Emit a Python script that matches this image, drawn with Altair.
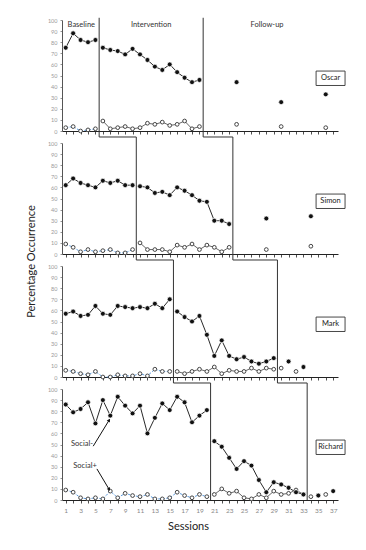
import altair as alt
import pandas as pd

# ---------------- data ----------------
names = ["Oscar", "Simon", "Mark", "Richard"]
phase_names = ["Baseline", "Intervention", "Follow-up"]
x_tick_values = list(range(1, 38))

# phase-change positions (between sessions) per participant
phase1_change = [5.5, 10.5, 15.5, 20.5]
phase2_change = [19.5, 23.5, 29.5, 33.5]

# Social- (filled circles) and Social+ (open circles)
oscar_base_neg = [75, 88, 82, 80, 82]
oscar_base_pos = [3, 4, 0, 1, 2]
oscar_int_neg = [75, 73, 72, 69, 74, 69, 64, 58, 55, 60, 53, 48, 44, 46]
oscar_int_pos = [9, 2, 3, 4, 2, 3, 7, 6, 8, 5, 6, 9, 2, 4]
oscar_fu_neg_sessions = [24, 30, 36]
oscar_fu_neg = [44, 26, 33]
oscar_fu_pos_sessions = [24, 30, 36]
oscar_fu_pos = [6, 4, 3]

simon_base_neg = [62, 68, 64, 62, 60, 66, 64, 66, 62, 62]
simon_base_pos = [9, 6, 2, 4, 2, 3, 4, 1, 1, 4]
simon_int_neg = [61, 60, 55, 56, 53, 60, 57, 53, 48, 47, 30, 30, 27]
simon_int_pos = [10, 4, 4, 4, 2, 8, 6, 9, 4, 8, 6, 2, 6]
simon_fu_neg_sessions = [28, 34]
simon_fu_neg = [32, 34]
simon_fu_pos_sessions = [28, 34]
simon_fu_pos = [4, 7]

mark_base_neg = [57, 59, 55, 56, 64, 57, 56, 64, 63, 62, 63, 62, 66, 62, 70]
mark_base_pos = [6, 5, 3, 2, 5, 0, 0, 2, 1, 1, 3, 1, 7, 5, 5]
mark_int_neg = [59, 54, 50, 55, 38, 19, 33, 19, 16, 18, 14, 12, 14, 17]
mark_int_pos = [5, 3, 5, 7, 5, 9, 3, 6, 5, 5, 8, 5, 8, 7]
mark_fu_neg_sessions = [31, 33]
mark_fu_neg = [14, 9]
mark_fu_pos_sessions = [30, 32]
mark_fu_pos = [8, 5]

richard_base_neg = [86, 79, 82, 88, 69, 90, 76, 93, 85, 78, 85, 60, 74, 87, 81, 93, 88, 70, 76, 81]
richard_base_pos = [9, 7, 2, 1, 2, 1, 8, 2, 6, 4, 3, 5, 1, 1, 2, 7, 4, 2, 5, 3]
richard_int_neg = [53, 48, 38, 28, 35, 31, 18, 7, 16, 14, 11, 7, 5]
richard_int_pos = [5, 10, 6, 8, 2, 1, 5, 2, 8, 5, 6, 9, 5]
richard_fu_neg_sessions = [35, 37]
richard_fu_neg = [4, 8]
richard_fu_pos_sessions = [34, 36]
richard_fu_pos = [3, 5]

series = {
    "Oscar": (oscar_base_neg, oscar_base_pos, oscar_int_neg, oscar_int_pos,
              oscar_fu_neg_sessions, oscar_fu_neg, oscar_fu_pos_sessions, oscar_fu_pos),
    "Simon": (simon_base_neg, simon_base_pos, simon_int_neg, simon_int_pos,
              simon_fu_neg_sessions, simon_fu_neg, simon_fu_pos_sessions, simon_fu_pos),
    "Mark": (mark_base_neg, mark_base_pos, mark_int_neg, mark_int_pos,
             mark_fu_neg_sessions, mark_fu_neg, mark_fu_pos_sessions, mark_fu_pos),
    "Richard": (richard_base_neg, richard_base_pos, richard_int_neg, richard_int_pos,
                richard_fu_neg_sessions, richard_fu_neg, richard_fu_pos_sessions, richard_fu_pos),
}

rows = []
for name in names:
    bn, bp, inn, ip, fns, fn, fps, fp = series[name]
    for i, v in enumerate(bn):
        rows.append(dict(panel=name, session=i + 1, value=v, series="neg", phase="Baseline"))
    for i, v in enumerate(bp):
        rows.append(dict(panel=name, session=i + 1, value=v, series="pos", phase="Baseline"))
    s0 = len(bn) + 1
    for i, v in enumerate(inn):
        rows.append(dict(panel=name, session=s0 + i, value=v, series="neg", phase="Intervention"))
    for i, v in enumerate(ip):
        rows.append(dict(panel=name, session=s0 + i, value=v, series="pos", phase="Intervention"))
    for s, v in zip(fns, fn):
        rows.append(dict(panel=name, session=s, value=v, series="neg", phase="Follow-up"))
    for s, v in zip(fps, fp):
        rows.append(dict(panel=name, session=s, value=v, series="pos", phase="Follow-up"))
df = pd.DataFrame(rows)

FONT = "Lato"
xscale = alt.Scale(domain=[0.5, 37.65], nice=False, zero=False)
yscale = alt.Scale(domain=[0, 100], nice=False, zero=False)


def make_axes(idx):
    last = idx == len(names) - 1
    xaxis = alt.Axis(
        values=x_tick_values,
        labelExpr="datum.value % 2 == 1 ? datum.label : ''" if last else "''",
        labels=last, labelOverlap=False, ticks=True, tickSize=3, tickColor="#222",
        domainColor="#222", domainWidth=1, tickWidth=0.8, grid=False,
        labelFontSize=6.5, labelColor="#888", labelFont=FONT, labelPadding=4,
        labelFlush=False,
        title="Sessions" if last else None,
        titleFont=FONT, titleFontSize=11, titleFontWeight="normal", titleColor="#222",
        titleX=126, titleY=29, titleBaseline="alphabetic", titleAnchor="middle",
    )
    yaxis_kwargs = dict(
        values=list(range(0, 101, 10)), labelOverlap=False, tickSize=2, tickColor="#777",
        domainColor="#555", domainWidth=1, tickWidth=0.8, grid=False, labelFontSize=5.5,
        labelColor="#999", labelFont=FONT, labelPadding=3, labelFlush=False,
    )
    if idx == 1:
        yaxis = alt.Axis(title="Percentage Occurrence", titleFont=FONT, titleFontSize=11,
                         titleFontWeight="normal", titleColor="#222", titleAngle=-90,
                         titleX=-26, titleY=118, titleBaseline="bottom", titleAlign="center",
                         **yaxis_kwargs)
    else:
        yaxis = alt.Axis(title=None, **yaxis_kwargs)
    return xaxis, yaxis


charts = []
for idx, name in enumerate(names):
    xaxis, yaxis = make_axes(idx)
    d = df[df.panel == name]

    def XF(field):
        return alt.X(field, scale=xscale, axis=xaxis)

    def YF(field):
        return alt.Y(field, scale=yscale, axis=yaxis)

    base = alt.Chart(d)

    neg_line = base.transform_filter(
        "datum.series == 'neg' && datum.phase != 'Follow-up'"
    ).mark_line(color="#111", strokeWidth=0.9).encode(
        x=XF("session:Q"), y=YF("value:Q"), detail="phase:N")
    pos_line_base = base.transform_filter(
        "datum.series == 'pos' && datum.phase == 'Baseline'"
    ).mark_line(color="#4a8fd8", strokeWidth=0.9, strokeDash=[2.5, 1.5]).encode(
        x=XF("session:Q"), y=YF("value:Q"))
    pos_line_int = base.transform_filter(
        "datum.series == 'pos' && datum.phase == 'Intervention'"
    ).mark_line(color="#555", strokeWidth=0.9).encode(x=XF("session:Q"), y=YF("value:Q"))
    pos_pts = base.transform_filter("datum.series == 'pos'").mark_point(
        shape="circle", filled=True, fill="white", stroke="#444", strokeWidth=1,
        size=14, opacity=1
    ).encode(x=XF("session:Q"), y=YF("value:Q"))
    neg_pts = base.transform_filter("datum.series == 'neg'").mark_point(
        shape="circle", filled=True, fill="#111", stroke="white", strokeWidth=0.7,
        size=24, opacity=1
    ).encode(x=XF("session:Q"), y=YF("value:Q"))

    # staggered phase-change lines
    last = idx == len(names) - 1
    top = 102 if idx == 0 else 105.4
    bottom = 0 if last else -5.4
    seg_rows = []
    for chg in (phase1_change, phase2_change):
        seg_rows.append(dict(x=chg[idx], x2=chg[idx], y=top, y2=bottom))
        if not last:
            seg_rows.append(dict(x=chg[idx], x2=chg[idx + 1], y=bottom, y2=bottom))
    segs = alt.Chart(pd.DataFrame(seg_rows)).mark_rule(color="#333", strokeWidth=1).encode(
        x=XF("x:Q"), x2="x2:Q", y=YF("y:Q"), y2="y2:Q")

    # name box
    boxdf = pd.DataFrame({"name": [name], "bx": [34.7], "bx2": [38.6], "by": [41],
                          "by2": [54], "tx": [36.65], "ty": [47.5]})
    box = alt.Chart(boxdf).mark_rect(fill="white", stroke="#333", strokeWidth=0.9).encode(
        x=XF("bx:Q"), x2="bx2:Q", y=YF("by:Q"), y2="by2:Q")
    box_text = alt.Chart(boxdf).mark_text(font=FONT, fontSize=7.5, color="#222").encode(
        x=XF("tx:Q"), y=YF("ty:Q"), text="name:N")

    layers = [segs, pos_line_base, pos_line_int, neg_line, pos_pts, neg_pts, box, box_text]

    if idx == 0:
        ph = pd.DataFrame({"label": phase_names, "xpos": [3.1, 12.5, 28.1],
                           "ypos": [95.5, 95.5, 95.5]})
        layers.append(alt.Chart(ph).mark_text(
            font=FONT, fontSize=7.5, color="#333", baseline="middle"
        ).encode(x=XF("xpos:Q"), y=YF("ypos:Q"), text="label:N"))

    if last:
        ann = pd.DataFrame({"label": ["Social-", "Social+"], "xpos": [3.2, 3.6],
                            "ypos": [50.6, 30.4]})
        layers.append(alt.Chart(ann).mark_text(
            font=FONT, fontSize=7.5, color="#333", baseline="middle"
        ).encode(x=XF("xpos:Q"), y=YF("ypos:Q"), text="label:N"))
        arr = pd.DataFrame({"x": [4.7, 5.2], "y": [48.5, 28.0],
                            "x2": [6.85, 6.85], "y2": [72.0, 9.5], "ang": [33, 148]})
        layers.append(alt.Chart(arr).mark_rule(color="#111", strokeWidth=1).encode(
            x=XF("x:Q"), x2="x2:Q", y=YF("y:Q"), y2="y2:Q"))
        layers.append(alt.Chart(arr).mark_point(
            shape="triangle-up", filled=True, color="#111", size=14, opacity=1
        ).encode(x=XF("x2:Q"), y=YF("y2:Q"), angle=alt.Angle("ang:Q", scale=None)))

    charts.append(alt.layer(*layers).properties(width=276, height=111))

chart = alt.vconcat(*charts, spacing=12, bounds="flush").properties(
    padding={"left": 17, "top": 9, "right": 10, "bottom": 5}
).configure_view(stroke=None).configure_axis(labelOverlap=False)

chart.save("out.html", embed_options={"renderer": "svg", "actions": False})
